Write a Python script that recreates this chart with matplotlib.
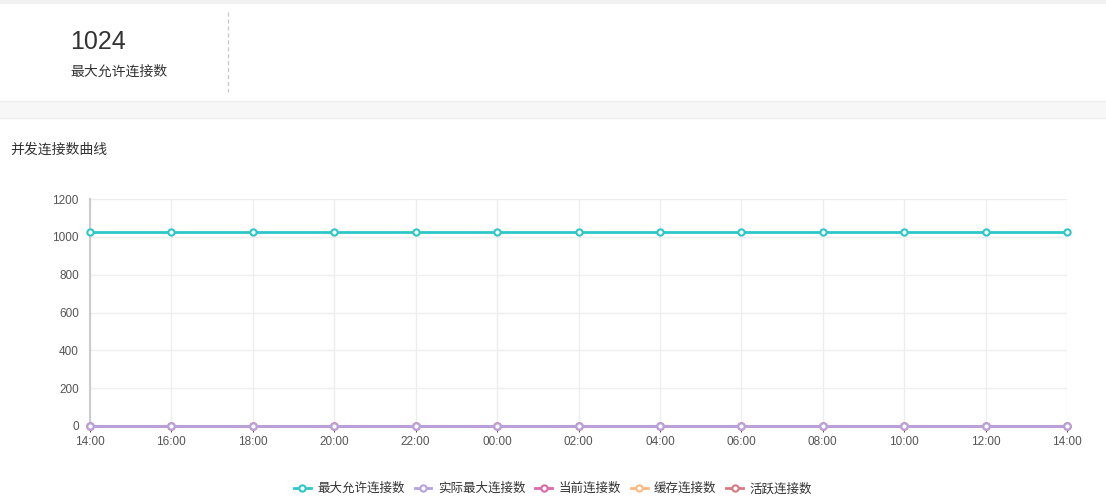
import matplotlib
matplotlib.use("Agg")
import matplotlib.pyplot as plt
from matplotlib.lines import Line2D
from matplotlib.patches import Rectangle

plt.rcParams['font.family'] = ['Liberation Sans', 'Noto Sans CJK SC', 'DejaVu Sans']

# ---- data ----
time_labels = ["14:00", "16:00", "18:00", "20:00", "22:00", "00:00", "02:00",
               "04:00", "06:00", "08:00", "10:00", "12:00", "14:00"]
max_allowed = [1024] * 13
actual_max = [0] * 13
current_conn = [0] * 13
cached_conn = [0] * 13
active_conn = [0] * 13
series_names = ["最大允许连接数", "实际最大连接数", "当前连接数", "缓存连接数", "活跃连接数"]
series_colors = ["#2ec7c9", "#b6a2de", "#dc69aa", "#ffb980", "#d87a80"]
y_ticks = [0, 200, 400, 600, 800, 1000, 1200]
summary_value = "1024"
summary_label = "最大允许连接数"
chart_title = "并发连接数曲线"

W, H = 1106, 499
fig = plt.figure(figsize=(W / 100, H / 100), dpi=100)
fig.patch.set_facecolor("white")

def fx(px):
    return px / W

def fy(py):
    return 1 - py / H

# background bands
fig.patches.append(Rectangle((0, fy(4)), 1, 4 / H, transform=fig.transFigure,
                             facecolor="#f2f2f2", edgecolor="none", zorder=0))
fig.patches.append(Rectangle((0, fy(118)), 1, 17 / H, transform=fig.transFigure,
                             facecolor="#f7f7f7", edgecolor="none", zorder=0))
fig.add_artist(Line2D([0, 1], [fy(101), fy(101)], transform=fig.transFigure,
                      color="#eeeeee", lw=1))
fig.add_artist(Line2D([0, 1], [fy(118), fy(118)], transform=fig.transFigure,
                      color="#eeeeee", lw=1))
# dashed separator
fig.add_artist(Line2D([fx(228), fx(228)], [fy(12), fy(92)], transform=fig.transFigure,
                      color="#cccccc", lw=1, linestyle=(0, (3, 2))))

fig.text(fx(70), fy(42), summary_value, fontsize=18, color="#333333", va="center", ha="left")
fig.text(fx(70), fy(72), summary_label, fontsize=10, color="#333333", va="center", ha="left")
fig.text(fx(10), fy(150), chart_title, fontsize=10, color="#333333", va="center", ha="left")

# ---- chart ----
ax = fig.add_axes([fx(90), fy(426), fx(1067) - fx(90), (426 - 199) / H])
x = list(range(len(time_labels)))
data = [max_allowed, actual_max, current_conn, cached_conn, active_conn]
order = [0, 2, 3, 4, 1]
for i in order:
    ax.plot(x, data[i], color=series_colors[i], lw=2, marker="o", markersize=4.5,
            markerfacecolor="white", markeredgecolor=series_colors[i], markeredgewidth=1.5,
            zorder=3 + (1 if i == 1 else 0), clip_on=False)

ax.set_xlim(0, len(time_labels) - 1)
ax.set_ylim(0, 1200)
ax.set_xticks(x)
ax.set_xticklabels(time_labels)
ax.set_yticks(y_ticks)
ax.grid(True, color="#eeeeee", lw=1)
ax.set_axisbelow(True)
for s in ["top", "right"]:
    ax.spines[s].set_visible(False)
ax.spines["left"].set_color("#cccccc")
ax.spines["left"].set_linewidth(1.5)
ax.spines["bottom"].set_color("#aaaaaa")
ax.spines["bottom"].set_linewidth(1.5)
ax.tick_params(axis="x", length=4, color="#555555", labelsize=8.5, labelcolor="#555555", pad=3)
ax.tick_params(axis="y", length=0, labelsize=8.5, labelcolor="#555555", pad=8)

handles = [Line2D([0], [0], color=c, lw=2, marker="o", markersize=4.5,
                  markerfacecolor="white", markeredgecolor=c, markeredgewidth=1.5)
           for c in series_colors]
fig.legend(handles, series_names, loc="center", bbox_to_anchor=(fx(553), fy(489)),
           ncol=5, frameon=False, fontsize=9, handlelength=1.35, handletextpad=0.5,
           columnspacing=0.8, labelcolor="#333333")

fig.savefig("out.png", dpi=100, facecolor="white")
